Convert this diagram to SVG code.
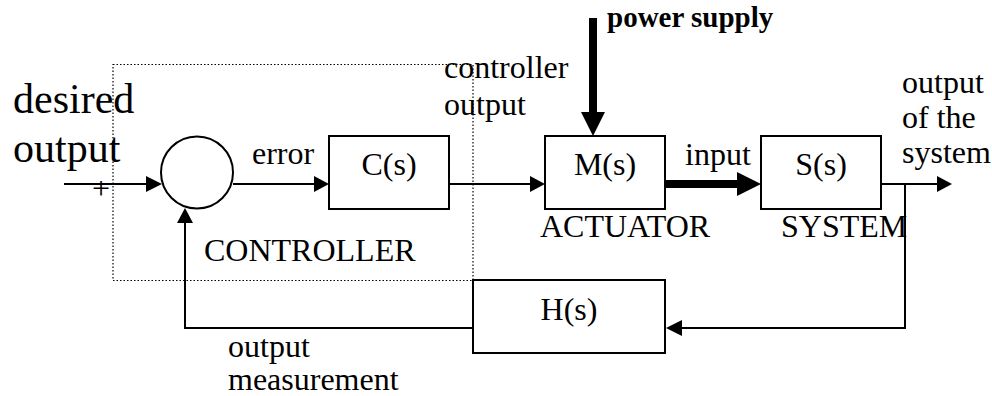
<svg xmlns="http://www.w3.org/2000/svg" width="992" height="396" viewBox="0 0 992 396">
<style>
text{font-family:"Liberation Serif","Times New Roman",serif;fill:#000}
.lbl{font-size:32px}
.big{font-size:42px}
.bold{font-size:29px;font-weight:bold}
.box{fill:#fff;stroke:#000;stroke-width:2}
.ln{fill:none;stroke:#000;stroke-width:2}
.thick{fill:none;stroke:#000;stroke-width:8}
.head{fill:#000;stroke:none}
.dot{fill:none;stroke:#000;stroke-width:1.2;stroke-dasharray:1.5 2}
</style>
<rect id="controller-boundary" class="dot" x="113" y="64.5" width="360" height="216"/>
<g id="connectors">
  <polyline class="ln" points="64,184 147,184"/>
  <polygon class="head" points="146,176 162,184 146,192"/>
  <polyline class="ln" points="233,184 315,184"/>
  <polygon class="head" points="314,176 329,184 314,192"/>
  <polyline class="ln" points="449,184 531,184"/>
  <polygon class="head" points="530,176 545,184 530,192"/>
  <polyline class="thick" points="665,184 738,184"/>
  <polygon class="head" points="737,172 761,184 737,196"/>
  <polyline class="ln" points="881,184 938,184"/>
  <polygon class="head" points="937,176 952,184 937,192"/>
  <polyline class="ln" points="905,184 905,328 681,328"/>
  <polygon class="head" points="682,320 666,328 682,336"/>
  <polyline class="ln" points="473,328 185,328 185,222"/>
  <polygon class="head" points="177,223 185,208 193,223"/>
  <polyline class="thick" points="593,18 593,113"/>
  <polygon class="head" points="581,112 605,112 593,136"/>
</g>
<g id="summing-junction"><circle class="ln" cx="197" cy="172.5" r="36"/></g>
<g id="node-C"><rect class="box" x="329" y="136" width="120" height="73"/><text class="lbl" x="389" y="175" text-anchor="middle">C(s)</text></g>
<g id="node-M"><rect class="box" x="545" y="136" width="120" height="73"/><text class="lbl" x="605" y="175" text-anchor="middle">M(s)</text></g>
<g id="node-S"><rect class="box" x="761" y="136" width="120" height="73"/><text class="lbl" x="821" y="175" text-anchor="middle">S(s)</text></g>
<g id="node-H"><rect class="box" x="473" y="280" width="192" height="73"/><text class="lbl" x="569" y="320" text-anchor="middle">H(s)</text></g>
<g id="labels">
  <text class="big" x="13" y="113">desired</text>
  <text class="big" x="13" y="162">output</text>
  <text x="101" y="199" font-size="32" text-anchor="middle" font-weight="300">+</text>
  <text class="lbl" x="252" y="164">error</text>
  <text class="lbl" x="444" y="78">controller</text>
  <text class="lbl" x="444" y="115">output</text>
  <text class="bold" x="607" y="27">power supply</text>
  <text class="lbl" x="685" y="165">input</text>
  <text class="lbl" x="902" y="93">output</text>
  <text class="lbl" x="902" y="128">of the</text>
  <text class="lbl" x="902" y="163">system</text>
  <text class="lbl" x="540" y="237">ACTUATOR</text>
  <text class="lbl" x="781" y="237">SYSTEM</text>
  <text class="lbl" x="204" y="261">CONTROLLER</text>
  <text class="lbl" x="228" y="357">output</text>
  <text class="lbl" x="228" y="390">measurement</text>
</g>
</svg>
